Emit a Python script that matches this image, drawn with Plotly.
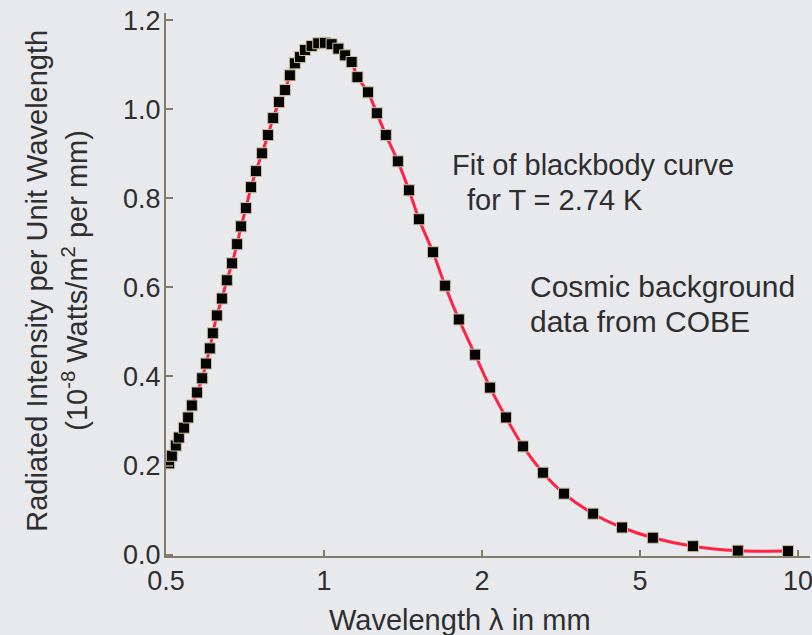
import numpy as np
import plotly.graph_objects as go

# ---- data ----
wavelength_mm = [0.507, 0.513, 0.522, 0.529, 0.541, 0.551, 0.560, 0.573, 0.586, 0.596,
                 0.606, 0.614, 0.625, 0.639, 0.653, 0.668, 0.683, 0.695, 0.710, 0.726,
                 0.742, 0.762, 0.782, 0.800, 0.821, 0.843, 0.861, 0.880, 0.900, 0.920,
                 0.947, 0.975, 1.004, 1.034, 1.065, 1.097, 1.129, 1.158, 1.213, 1.261,
                 1.312, 1.383, 1.452, 1.517, 1.613, 1.701, 1.807, 1.940, 2.096, 2.299,
                 2.537, 2.848, 3.218, 3.810, 4.506, 5.29, 6.31, 7.68, 9.57]
intensity = [0.205, 0.222, 0.245, 0.263, 0.285, 0.308, 0.335, 0.364, 0.396, 0.429,
             0.463, 0.497, 0.537, 0.575, 0.616, 0.654, 0.697, 0.737, 0.778, 0.825,
             0.861, 0.901, 0.942, 0.980, 1.016, 1.043, 1.076, 1.103, 1.117, 1.133,
             1.142, 1.148, 1.149, 1.146, 1.136, 1.121, 1.106, 1.072, 1.038, 0.991,
             0.942, 0.883, 0.818, 0.753, 0.679, 0.604, 0.528, 0.449, 0.375, 0.308,
             0.243, 0.184, 0.137, 0.092, 0.061, 0.038, 0.019, 0.009, 0.008]

x_tick_mm = [0.5, 1, 2, 5, 10]
x_tick_text = ["0.5", "1", "2", "5", "10"]
y_tick_vals = [0.0, 0.2, 0.4, 0.6, 0.8, 1.0, 1.2]
y_tick_text = ["0.0", "0.2", "0.4", "0.6", "0.8", "1.0", "1.2"]

x_title = "Wavelength \u03bb in mm"
y_title_1 = "Radiated Intensity per Unit Wavelength"
y_title_2 = "(10<sup>-8</sup> Watts/m<sup>2</sup> per mm)"
note_fit_1 = "Fit of blackbody curve"
note_fit_2 = "for T = 2.74 K"
note_data_1 = "Cosmic background"
note_data_2 = "data from COBE"

# The reference axis places 0.5, 1, 2, 5, 10 at equal spacing
# (log scale between consecutive labelled ticks).
def axis_pos(lam):
    return np.interp(np.log10(np.asarray(lam, dtype=float)),
                     np.log10(x_tick_mm), np.arange(len(x_tick_mm)))

xp = axis_pos(wavelength_mm)
tick_pos = axis_pos(x_tick_mm)

FONT = "Liberation Sans, Arial, Helvetica, sans-serif"
TXT = "#2e2e2e"
AXC = "#857a68"
BG = "#e8e9ed"

fig = go.Figure()
fig.add_trace(go.Scatter(
    x=xp, y=intensity, mode="lines",
    line=dict(color="#ff2242", width=3, shape="spline", smoothing=0.8),
    hoverinfo="skip", showlegend=False))
fig.add_trace(go.Scatter(
    x=xp, y=intensity, mode="markers",
    marker=dict(symbol="square", size=11, color="#050505",
                line=dict(color="#cdbf9f", width=1)),
    showlegend=False))

fig.update_layout(
    width=812, height=635,
    margin=dict(l=166, r=2, t=13, b=79, autoexpand=False),
    paper_bgcolor=BG, plot_bgcolor=BG,
    font=dict(family=FONT, color=TXT, size=27),
    xaxis=dict(range=[0, 4.076], tickmode="array", tickvals=tick_pos,
               ticktext=x_tick_text, showgrid=False, zeroline=False,
               showline=True, linecolor=AXC, linewidth=2,
               ticks="inside", ticklen=6, tickwidth=2, tickcolor=AXC,
               ticklabeloverflow="allow", ticklabelstandoff=0, automargin=False,
               tickfont=dict(size=27, color=TXT)),
    yaxis=dict(range=[-0.003, 1.216], tickmode="array", tickvals=y_tick_vals,
               ticktext=y_tick_text, showgrid=False, zeroline=False,
               showline=True, linecolor=AXC, linewidth=2,
               ticks="inside", ticklen=7, tickwidth=2, tickcolor=AXC,
               ticklabelstandoff=-2, automargin=False,
               tickfont=dict(size=27, color=TXT)),
)

def ann(text, x, y, size=29, angle=0, xanchor="left"):
    fig.add_annotation(text=text, x=x, y=y, xref="paper", yref="paper",
                       showarrow=False, xanchor=xanchor, yanchor="middle",
                       textangle=angle, font=dict(family=FONT, size=size, color=TXT))

ann(x_title, 0.4565, -0.117, xanchor="center")
ann(y_title_1, -0.2003, 0.507, angle=-90, xanchor="center")
ann(y_title_2, -0.1413, 0.507, angle=-90, xanchor="center")
ann(note_fit_1, 0.441, 0.720)
ann(note_fit_2, 0.4644, 0.656)
ann(note_data_1, 0.5622, 0.496, size=30)
ann(note_data_2, 0.5622, 0.4315, size=30)

fig.write_html(
    "out.html",
    config={"displayModeBar": False},
    post_script=("document.body.style.margin='0';"
                 "document.body.style.background='%s';"
                 "document.documentElement.style.overflow='hidden';" % BG),
)
